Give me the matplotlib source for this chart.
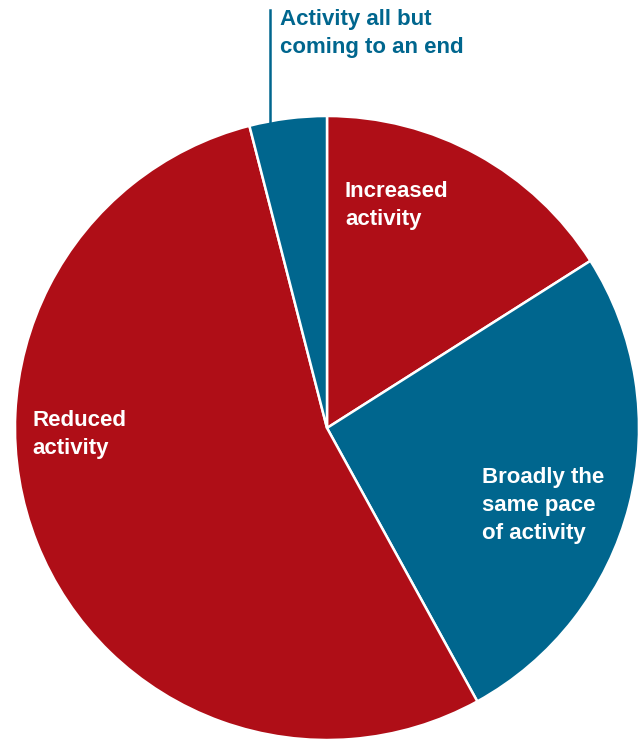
import matplotlib
matplotlib.use("Agg")
import matplotlib.pyplot as plt

categories = ["Increased\nactivity", "Broadly the\nsame pace\nof activity", "Reduced\nactivity", "Activity all but\ncoming to an end"]
values = [16, 26, 54, 4]
RED = "#AF0E17"
BLUE = "#00668E"
colors = [RED, BLUE, RED, BLUE]

plt.rcParams['font.family'] = ['Liberation Sans', 'DejaVu Sans']

W, H = 642, 741
fig = plt.figure(figsize=(W / 100, H / 100), dpi=100)
ax = fig.add_axes([0, 0, 1, 1])

cx, cy, r = 327, 428, 312
ax.pie(values, colors=colors, startangle=90, counterclock=False,
       center=(cx, -cy), radius=r,
       wedgeprops=dict(edgecolor='white', linewidth=1.8),
       frame=False)
ax.set_xlim(0, W)
ax.set_ylim(-H, 0)
ax.set_aspect('equal')
ax.axis('off')

fs = 16
ls = 1.45
ax.text(345, -181, categories[0], color='white', fontsize=fs, fontweight='bold',
        va='top', ha='left', linespacing=ls)
ax.text(482, -467, categories[1], color='white', fontsize=fs, fontweight='bold',
        va='top', ha='left', linespacing=ls)
ax.text(32, -410, categories[2], color='white', fontsize=fs, fontweight='bold',
        va='top', ha='left', linespacing=ls)
ax.text(280, -9, categories[3], color=BLUE, fontsize=fs, fontweight='bold',
        va='top', ha='left', linespacing=ls)
ax.plot([270, 270], [-10, -124], color=BLUE, linewidth=1.8)

fig.savefig("out.png", dpi=100)
